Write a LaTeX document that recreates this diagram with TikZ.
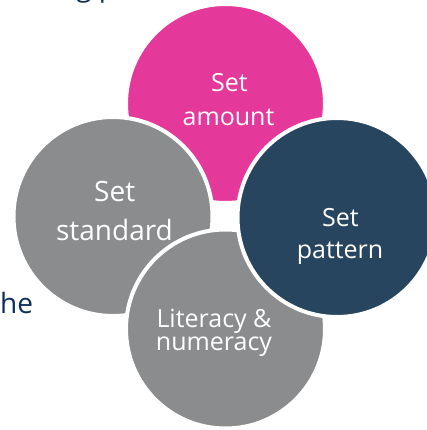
\documentclass[tikz,border=0pt]{standalone}
\usepackage{fontspec}
\setmainfont{Open Sans}
\definecolor{pinkc}{HTML}{E4389A}
\definecolor{grayc}{HTML}{8A8C8E}
\definecolor{navyc}{HTML}{284560}
\definecolor{inkc}{HTML}{0E2D5B}
\begin{document}
\begin{tikzpicture}[x=1pt,y=-1pt,
  disc/.style={circle, draw=white, line width=4pt, minimum size=199pt, inner sep=0pt, outer sep=0pt},
  lbl/.style={text=white, anchor=base, inner sep=0pt, font=\fontsize{25}{30}\selectfont},
  biglbl/.style={lbl, font=\fontsize{28}{34}\selectfont},
  side/.style={text=inkc, anchor=base west, inner sep=0pt, font=\fontsize{28}{34}\selectfont}]
\useasboundingbox (0,0) rectangle (427,430);
\clip (0,0) rectangle (427,430);
\node[disc, fill=pinkc] (amount) at (225.5,103.5) {};
\node[disc, fill=grayc] (standard) at (113,216.5) {};
\node[disc, fill=grayc] (literacy) at (225.5,329) {};
\node[disc, fill=navyc] (pattern) at (337,217.5) {};
\node[lbl] (amount1) at (229.5,91.7) {Set};
\node[lbl] (amount2) at (228.5,125.7) {amount};
\node[biglbl] (standard1) at (114.7,201.7) {Set};
\node[biglbl] (standard2) at (114.5,240) {standard};
\node[lbl] (pattern1) at (340.5,226) {Set};
\node[lbl] (pattern2) at (340,258) {pattern};
\node[lbl] (literacy1) at (214,327) {Literacy \&};
\node[lbl] (literacy2) at (214,350) {numeracy};
\node[side] (he) at (0,313) {he};
\node[side] (topline) at (59,-3.5) {ng p};
\end{tikzpicture}
\end{document}
